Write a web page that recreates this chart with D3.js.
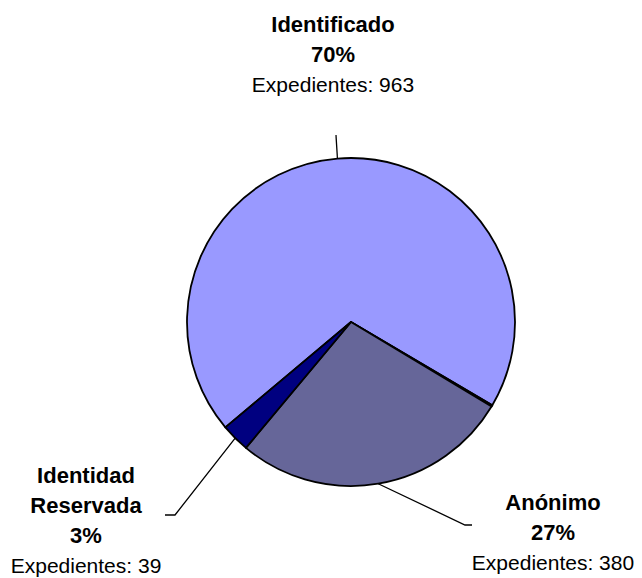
<!DOCTYPE html>
<html>
<head>
<meta charset="utf-8">
<script src="https://cdn.jsdelivr.net/npm/d3@7"></script>
<style>
  body { margin: 0; background: #fff; }
  svg text { font-family: "Liberation Sans", Arial, sans-serif; fill: #000; }
  .name { font-weight: bold; font-size: 22px; }
  .info { font-size: 21px; }
</style>
</head>
<body>
<svg width="642" height="578"></svg>
<script>
// **** data ****
var categories = ["Identificado", "Sin dato", "Anónimo", "Identidad Reservada"];
var expedientes = [963, 2, 380, 39];
var colors = ["#9999FF", "#FFFFFF", "#666699", "#000080"];
// label lines per category (empty = no label)
var labelLines = [["Identificado"], [], ["Anónimo"], ["Identidad", "Reservada"]];

var svg = d3.select('svg');
var cx = 351, cy = 322, radius = 164;

var total = d3.sum(expedientes);
var rad = Math.PI / 180;

var pie = d3.pie()
    .sort(null)
    .startAngle(230 * rad)
    .endAngle(590 * rad)
    .value(function(d){ return d; });

var arcs = pie(expedientes);

var arc = d3.arc().innerRadius(0).outerRadius(radius);
var edge = d3.arc().innerRadius(radius).outerRadius(radius);

var g = svg.append('g').attr('transform', 'translate(' + cx + ',' + cy + ')');

g.selectAll('path.slice')
    .data(arcs)
    .enter()
    .append('path')
    .attr('class', 'slice')
    .attr('d', arc)
    .attr('fill', function(d, i){ return colors[i]; })
    .attr('stroke', '#000')
    .attr('stroke-width', 1.8)
    .attr('stroke-linejoin', 'round');

// **** labels and leader lines ****
// elbow points and label anchors (relative to pie centre)
var layout = {
    0: { elbow: [[-15, -187]], x: -18, y: -290 },
    2: { elbow: [[114, 203], [121, 203]], x: 202, y: 188 },
    3: { elbow: [[-176, 193], [-186, 193]], x: -265, y: 161 }
};

arcs.forEach(function(d, i){
    var lay = layout[i];
    if (!lay) return;
    var pts = [edge.centroid(d)].concat(lay.elbow);
    g.append('path')
        .attr('d', d3.line()(pts))
        .attr('fill', 'none')
        .attr('stroke', '#000')
        .attr('stroke-width', 1.3);

    var pct = Math.round(d.value / total * 100) + '%';
    var lines = labelLines[i].map(function(t){ return { t: t, c: 'name' }; });
    lines.push({ t: pct, c: 'name' });
    lines.push({ t: 'Expedientes: ' + d.value, c: 'info' });

    var txt = g.append('text')
        .attr('text-anchor', 'middle')
        .attr('transform', 'translate(' + lay.x + ',' + lay.y + ')');
    lines.forEach(function(l, k){
        txt.append('tspan')
            .attr('class', l.c)
            .attr('x', 0)
            .attr('y', k * 30)
            .text(l.t);
    });
});
</script>
</body>
</html>
